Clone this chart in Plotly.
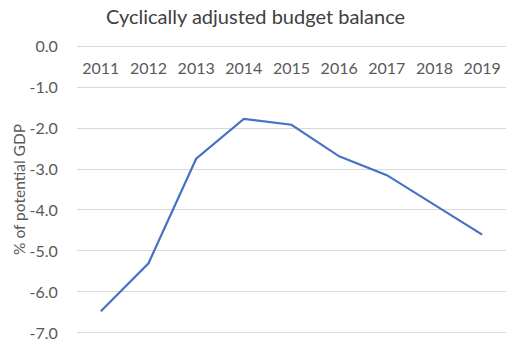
import plotly.graph_objects as go

years = ["2011", "2012", "2013", "2014", "2015", "2016", "2017", "2018", "2019"]
balance = [-6.47, -5.30, -2.75, -1.78, -1.92, -2.69, -3.15, -3.87, -4.60]
y_tick_vals = [0, -1, -2, -3, -4, -5, -6, -7]
y_tick_text = ["0.0", "-1.0", "-2.0", "-3.0", "-4.0", "-5.0", "-6.0", "-7.0"]

W, H = 516, 352
PAD = 0.05
L, R, T, B = 77, 10, 44.2, 13.6

fig = go.Figure()
fig.add_trace(go.Scatter(
    x=years, y=balance, mode="lines",
    line=dict(color="#4472C4", width=2.2),
    hoverinfo="skip", showlegend=False,
))

font_family = "Lato, sans-serif"
fig.update_layout(
    width=W, height=H,
    margin=dict(l=L, r=R, t=T, b=B, pad=0),
    paper_bgcolor="white", plot_bgcolor="white",
    font=dict(family=font_family, color="#595959"),
    title=dict(text="Cyclically adjusted budget balance",
               x=255.5 / W, xanchor="center",
               y=1 - 17 / H, yanchor="middle",
               font=dict(size=20, color="#404040", family=font_family)),
    xaxis=dict(
        type="category", range=[-0.5, 8.5],
        anchor="free", position=1 - 2.1 / (H - T - B), side="bottom",
        showgrid=False, showline=False, zeroline=False,
        ticks="outside", ticklen=8, tickcolor="rgba(0,0,0,0)",
        tickfont=dict(size=16, color="#595959"),
    ),
    yaxis=dict(
        range=[-7 - PAD, 0 + PAD], tickvals=y_tick_vals, ticktext=y_tick_text,
        showgrid=True, gridcolor="#D9D9D9", gridwidth=1,
        zeroline=False, showline=False,
        ticks="outside", ticklen=15, tickcolor="rgba(0,0,0,0)",
        tickfont=dict(size=16, color="#595959"),
        title=dict(text="% of potential GDP", standoff=0,
                   font=dict(size=15.5, color="#595959")),
    ),
)

fig.write_html("out.html")
